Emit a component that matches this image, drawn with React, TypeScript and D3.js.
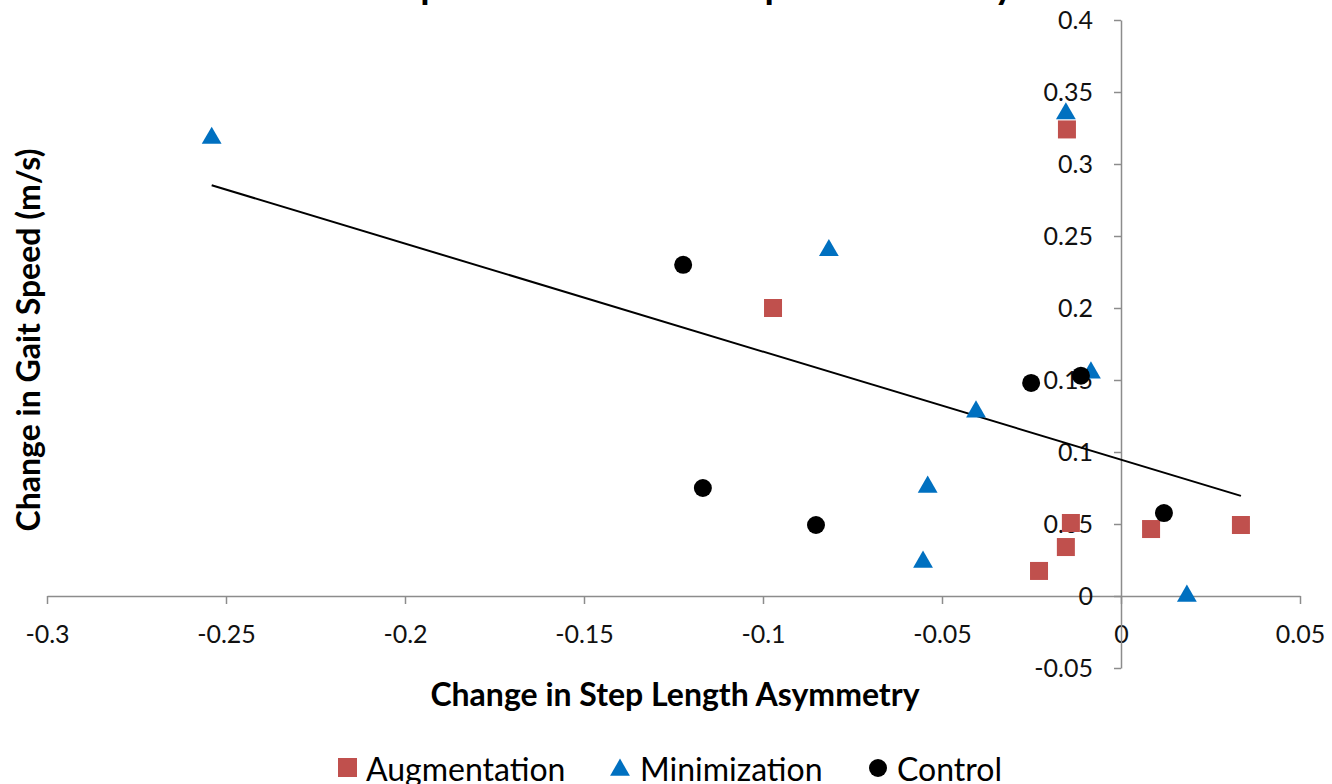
import React, { useRef, useEffect } from 'react';
import * as d3 from 'd3';

// values
const augmentation: [number, number][] = [
  [-0.0151, 0.324], [-0.0972, 0.2], [-0.014, 0.0507], [-0.0154, 0.034],
  [-0.0229, 0.0174], [0.0084, 0.0465], [0.0335, 0.0493],
];
const minimization: [number, number][] = [
  [-0.254, 0.318], [-0.0154, 0.335], [-0.0816, 0.24], [-0.0084, 0.155],
  [-0.0405, 0.128], [-0.054, 0.0757], [-0.0553, 0.0236], [0.0184, 0.0],
];
const control: [number, number][] = [
  [-0.1223, 0.23], [-0.1168, 0.075], [-0.0852, 0.0493], [-0.0251, 0.148],
  [-0.0112, 0.153], [0.012, 0.0576],
];
const xTicks = [-0.3, -0.25, -0.2, -0.15, -0.1, -0.05, 0, 0.05];
const yTicks = [-0.05, 0, 0.05, 0.1, 0.15, 0.2, 0.25, 0.3, 0.35, 0.4];
const seriesNames = ['Augmentation', 'Minimization', 'Control'];

const W = 1332;
const H = 784;
const axisColor = '#8c8c8c';
const font = 'Lato, "Open Sans", sans-serif';
const red = '#c0504d';
const blue = '#0070c0';

function App() {
  const xAxisRef = useRef<SVGGElement>(null);
  const yAxisRef = useRef<SVGGElement>(null);

  const x = d3.scaleLinear().domain([-0.3, 0.05]).range([47, 1300]);
  const y = d3.scaleLinear().domain([-0.05, 0.4]).range([668, 20]);
  const fmt = (v: number) => String(+v.toFixed(2));

  // linear regression over all points
  const all = [...augmentation, ...minimization, ...control];
  const mx = d3.mean(all, d => d[0])!;
  const my = d3.mean(all, d => d[1])!;
  const slope = d3.sum(all, d => (d[0] - mx) * (d[1] - my)) / d3.sum(all, d => (d[0] - mx) ** 2);
  const icpt = my - slope * mx;
  const [x0, x1] = d3.extent(all, d => d[0]) as [number, number];

  useEffect(() => {
    const xa = d3.select(xAxisRef.current!);
    xa.call(d3.axisBottom(x).tickValues(xTicks).tickFormat(d => fmt(+d)).tickSize(8).tickSizeOuter(0).tickPadding(21));
    const ya = d3.select(yAxisRef.current!);
    ya.call(d3.axisLeft(y).tickValues(yTicks).tickFormat(d => fmt(+d)).tickSize(7).tickSizeOuter(0).tickPadding(21));
    [xa, ya].forEach(a => {
      a.selectAll('path, line').attr('stroke', axisColor).attr('stroke-width', 1.5);
      a.selectAll('text').attr('fill', '#111').style('font-size', '25px').style('font-family', font);
    });
  }, []);

  const tri = d3.symbol().type(d3.symbolTriangle).size(170)();

  return (
    <svg width={W} height={H} style={{ position: 'absolute', left: 0, top: 0, background: '#fff' }}>
      {/* title sits above the visible area in the reference; only descenders show */}
      <text x={690} y={-1} textAnchor="middle" fontFamily={font} fontWeight={700} fontSize={38}>
        Step Ratio Deficit and Speed Recovery
      </text>
      <g ref={xAxisRef} transform={`translate(0,${y(0)})`} />
      <g ref={yAxisRef} transform={`translate(${x(0)},0)`} />

      <line x1={x(x0)} y1={y(icpt + slope * x0)} x2={x(x1)} y2={y(icpt + slope * x1)} stroke="#000" strokeWidth={2} />

      {augmentation.map((d, i) => (
        <rect key={'a' + i} x={x(d[0]) - 9} y={y(d[1]) - 9} width={18} height={18} fill={red} />
      ))}
      {minimization.map((d, i) => (
        <path key={'m' + i} d={tri!} transform={`translate(${x(d[0])},${y(d[1])})`} fill={blue} />
      ))}
      {control.map((d, i) => (
        <circle key={'c' + i} cx={x(d[0])} cy={y(d[1])} r={9} fill="#000" />
      ))}

      <text x={675} y={706} textAnchor="middle" fontFamily={font} fontWeight={700} fontSize={32}>
        Change in Step Length Asymmetry
      </text>
      <text transform="translate(40,340) rotate(-90)" textAnchor="middle" fontFamily={font} fontWeight={700} fontSize={32}>
        Change in Gait Speed (m/s)
      </text>

      <g fontFamily={font} fontSize={32}>
        <rect x={338} y={758} width={19} height={19} fill={red} />
        <text x={366} y={781}>{seriesNames[0]}</text>
        <path d={tri!} transform="translate(620,770)" fill={blue} />
        <text x={640} y={781}>{seriesNames[1]}</text>
        <circle cx={878} cy={768} r={9} fill="#000" />
        <text x={897} y={781}>{seriesNames[2]}</text>
      </g>
    </svg>
  );
}

export default App;
